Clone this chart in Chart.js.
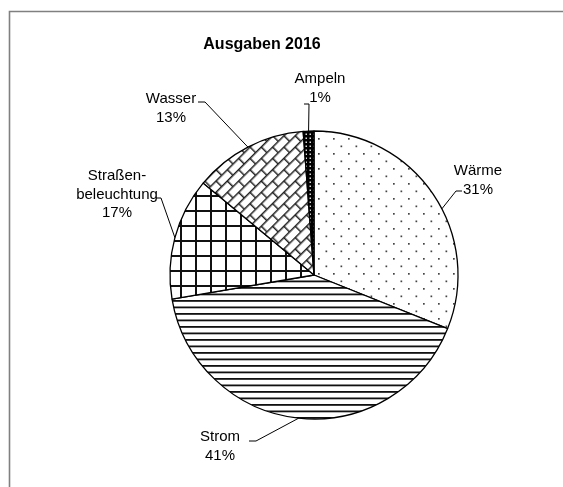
<!DOCTYPE html>
<html>
<head>
<meta charset="utf-8">
<script src="https://cdn.jsdelivr.net/npm/chart.js@4.4.0/dist/chart.umd.min.js"></script>
<style>
  html, body { margin: 0; padding: 0; background: #fff; }
  #wrap { width: 563px; height: 487px; }
</style>
</head>
<body>
<div id="wrap"><canvas id="grafico"></canvas></div>
<script>
// Daten
const categories = ['Wärme', 'Strom', 'Straßenbeleuchtung', 'Wasser', 'Ampeln'];
const labelLines = [['Wärme'], ['Strom'], ['Straßen-', 'beleuchtung'], ['Wasser'], ['Ampeln']];
const values = [31.1, 41.3, 13.7, 12.8, 1.2];
const percentLabels = ['31%', '41%', '17%', '13%', '1%'];
const chartTitle = 'Ausgaben 2016';

// Lage der Beschriftungen: Mittelpunkt x, y der ersten Zeile, Führungsstrich (x1, y, x2), Stelle im Segment
const labelPos = [
    { x: 478, y: 171, stub: [456, 191, 462], at: 0.56 },
    { x: 220, y: 437, stub: [256, 441, 249], at: 0.5 },
    { x: 117, y: 176, stub: [161, 198, 156], at: 0.5 },
    { x: 171, y: 99,  stub: [205, 102, 198], at: 0.5 },
    { x: 320, y: 79,  stub: [309, 104, 304], at: 0.5 }
];

function makePattern(w, h, draw) {
    const c = document.createElement('canvas');
    c.width = w; c.height = h;
    const g = c.getContext('2d');
    draw(g, w, h);
    return document.createElement('canvas').getContext('2d').createPattern(c, 'repeat');
}

// Muster wie in Excel
const dots = makePattern(15, 15, (g, w, h) => {
    g.fillStyle = '#fff'; g.fillRect(0, 0, w, h);
    g.fillStyle = '#444';
    g.fillRect(3, 3, 1.7, 1.7);
    g.fillRect(10.5, 10.5, 1.7, 1.7);
});
const hLines = makePattern(8, 13, (g, w, h) => {
    g.fillStyle = '#fff'; g.fillRect(0, 0, w, h);
    g.fillStyle = '#111';
    g.fillRect(0, 1, w, 1.8);
    g.fillRect(0, 7.5, w, 1.8);
});
const grid = makePattern(15, 15, (g, w, h) => {
    g.fillStyle = '#fff'; g.fillRect(0, 0, w, h);
    g.fillStyle = '#111';
    g.fillRect(0, 0, w, 2);
    g.fillRect(0, 0, 2, h);
});
const brick = makePattern(16, 16, (g, w, h) => {
    g.fillStyle = '#fff'; g.fillRect(0, 0, w, h);
    g.strokeStyle = '#222';
    g.lineWidth = 1.5;
    g.beginPath();
    g.moveTo(0, 0.75); g.lineTo(w, 0.75);
    g.moveTo(0, 8.75); g.lineTo(w, 8.75);
    g.moveTo(0.75, 0); g.lineTo(0.75, 8.75);
    g.moveTo(8.75, 8.75); g.lineTo(8.75, 16);
    g.stroke();
});
brick.setTransform(new DOMMatrix().rotate(-45));
const dark = makePattern(4, 4, (g, w, h) => {
    g.fillStyle = '#000'; g.fillRect(0, 0, w, h);
    g.fillStyle = '#ddd';
    g.fillRect(1.5, 1.5, 1.5, 1.5);
});

const fills = [dots, hLines, grid, brick, dark];

const rahmen = {
    id: 'rahmen',
    beforeDraw(chart) {
        const ctx = chart.ctx;
        ctx.save();
        ctx.fillStyle = '#fff';
        ctx.fillRect(0, 0, chart.width, chart.height);
        ctx.strokeStyle = '#808080';
        ctx.lineWidth = 1.6;
        ctx.beginPath();
        ctx.moveTo(9.5, chart.height + 5);
        ctx.lineTo(9.5, 11.5);
        ctx.lineTo(chart.width + 5, 11.5);
        ctx.stroke();
        ctx.restore();
    }
};

const beschriftung = {
    id: 'beschriftung',
    afterDraw(chart) {
        const ctx = chart.ctx;
        const arcs = chart.getDatasetMeta(0).data;
        ctx.save();
        ctx.fillStyle = '#000';
        ctx.textAlign = 'center';
        ctx.textBaseline = 'middle';
        ctx.font = 'bold 16px "Liberation Sans", Arial, sans-serif';
        ctx.fillText(chartTitle, 262, 45);

        ctx.font = '15px "Liberation Sans", Arial, sans-serif';
        ctx.strokeStyle = '#000';
        ctx.lineWidth = 1;
        arcs.forEach((arc, i) => {
            const p = labelPos[i];
            const lines = labelLines[i].concat([percentLabels[i]]);
            lines.forEach((t, k) => ctx.fillText(t, p.x, p.y + k * 18.5));
            const a = arc.startAngle + (arc.endAngle - arc.startAngle) * p.at;
            const ex = arc.x + Math.cos(a) * arc.outerRadius;
            const ey = arc.y + Math.sin(a) * arc.outerRadius;
            ctx.beginPath();
            ctx.moveTo(p.stub[2], p.stub[1]);
            ctx.lineTo(p.stub[0], p.stub[1]);
            ctx.lineTo(ex, ey);
            ctx.stroke();
        });
        ctx.restore();
    }
};

const ctx = document.getElementById('grafico').getContext('2d');
new Chart(ctx, {
    type: 'pie',
    data: {
        labels: categories,
        datasets: [{
            data: values,
            backgroundColor: fills,
            borderColor: '#000',
            borderWidth: 1.3,
            hoverOffset: 0
        }]
    },
    options: {
        responsive: true,
        maintainAspectRatio: false,
        animation: false,
        events: [],
        radius: 144,
        layout: { padding: { left: 170, right: 105, top: 131, bottom: 68 } },
        plugins: {
            legend: { display: false },
            title: { display: false },
            tooltip: { enabled: false }
        }
    },
    plugins: [rahmen, beschriftung]
});
</script>
</body>
</html>
